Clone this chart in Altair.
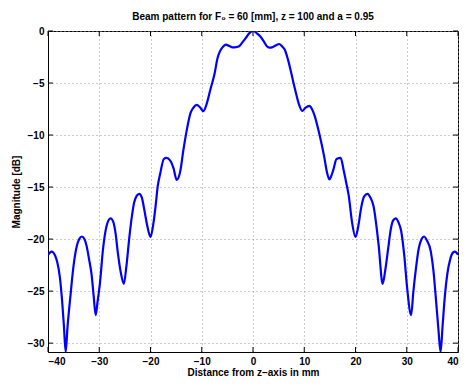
import altair as alt
import pandas as pd

# distance from z-axis [mm]
xs = [-40.0, -39.3, -38.6, -38.2, -37.7, -37.25, -36.9, -36.55, -36.2, -35.65,
      -35.0, -34.4, -33.9, -33.4, -32.9, -32.5, -32.0, -31.5, -31.1, -30.7,
      -30.3, -29.9, -29.25, -28.6, -28.2, -27.8, -27.3, -26.8, -26.4, -25.8,
      -25.2, -24.7, -24.1, -23.6, -23.2, -22.7, -22.2, -21.7, -21.2, -20.6,
      -20.0, -19.5, -19.0, -18.6, -18.1, -17.4, -16.9, -16.15, -15.5, -14.9,
      -14.2, -13.6, -12.95, -12.2, -11.6, -11.0, -10.4, -9.7, -9.1, -8.3,
      -7.5, -6.9, -6.5, -6.0, -5.3, -4.6, -4.0, -3.3, -2.7, -2.0,
      -1.44, -0.7, 0.0,
      0.7, 1.44, 2.1, 2.7, 3.2, 3.7, 4.4, 5.1, 5.7, 6.2,
      6.8, 7.5, 8.0, 8.5, 9.0, 9.6, 10.2, 11.0, 11.5, 12.0,
      12.95, 13.9, 14.4, 14.9, 15.3, 15.7, 16.3, 17.1, 17.7, 18.2,
      18.7, 19.3, 20.0, 20.6, 21.1, 21.7, 22.35, 22.9, 23.5, 24.5,
      25.3, 25.8, 26.4, 26.9, 27.35, 27.85, 28.4, 28.9, 29.5, 30.1,
      30.85, 31.3, 31.8, 32.3, 32.9, 33.4, 33.9, 34.7, 35.2, 35.7,
      36.2, 36.6, 37.0, 37.4, 37.9, 38.5, 39.0, 39.4, 40.0]

# magnitude [dB]
ys = [-21.5, -21.2, -21.6, -22.2, -23.6, -25.9, -28.3, -30.85, -28.5, -25.6,
      -22.5, -20.7, -20.0, -19.75, -20.0, -20.6, -21.9, -23.4, -25.4, -27.3,
      -25.9, -24.4, -20.9, -18.8, -18.2, -18.0, -18.3, -19.5, -21.2, -23.2,
      -24.3, -22.6, -19.7, -17.7, -16.5, -15.85, -15.65, -16.0, -17.2, -18.8,
      -19.8, -18.7, -16.8, -14.95, -13.7, -12.3, -12.2, -12.45, -13.2, -14.3,
      -13.5, -11.5, -9.6, -7.9, -7.35, -7.1, -7.3, -7.7, -7.1, -5.6,
      -4.1, -2.57, -2.0, -1.6, -1.3, -1.45, -1.57, -1.55, -1.47, -1.05,
      -0.69, -0.2, 0.0,
      -0.2, -0.53, -1.0, -1.47, -1.6, -1.57, -1.4, -1.25, -1.5, -1.8,
      -2.7, -4.1, -5.2, -6.2, -7.1, -7.68, -7.4, -7.2, -7.5, -8.1,
      -9.9, -12.1, -13.5, -14.26, -13.9, -13.3, -12.3, -12.2, -13.4, -14.6,
      -15.9, -18.3, -19.8, -18.6, -17.0, -15.9, -15.65, -16.0, -16.8, -20.5,
      -24.3, -23.0, -20.8, -19.0, -18.2, -18.0, -18.4, -19.2, -21.5, -24.8,
      -27.3, -25.0, -22.8, -21.0, -20.0, -19.75, -20.1, -21.2, -23.0, -25.8,
      -28.8, -30.85, -28.3, -25.7, -23.4, -21.9, -21.3, -21.2, -21.5]

x_ticks = [-40, -30, -20, -10, 0, 10, 20, 30, 40]
y_ticks = [-30, -25, -20, -15, -10, -5, 0]

W, H = 410, 321
FONT = "Liberation Sans"

df = pd.DataFrame({"x": xs, "y": ys})
xt = pd.DataFrame({"t": x_ticks})
yt = pd.DataFrame({"t": y_ticks})

xscale = alt.Scale(domain=[-40, 40], nice=False, zero=False)
yscale = alt.Scale(domain=[-30.85, 0], nice=False, zero=False)

line = alt.Chart(df).mark_line(
    color="#0000ff", strokeWidth=2.2, interpolate="monotone", clip=True
).encode(
    x=alt.X("x:Q", scale=xscale,
            axis=alt.Axis(values=x_ticks, title="Distance from z\u2212axis in mm",
                          grid=True, ticks=False, labelPadding=4, titlePadding=1)),
    y=alt.Y("y:Q", scale=yscale,
            axis=alt.Axis(values=y_ticks, title="Magnitude [dB]",
                          grid=True, ticks=False, labelPadding=4, titlePadding=6)),
)

tick_color = "black"
bx = alt.Chart(xt).mark_rule(color=tick_color, strokeWidth=1).encode(
    x=alt.X("t:Q", scale=xscale), y=alt.value(H), y2=alt.value(H - 5))
tx = alt.Chart(xt).mark_rule(color=tick_color, strokeWidth=1).encode(
    x=alt.X("t:Q", scale=xscale), y=alt.value(0), y2=alt.value(5))
ly = alt.Chart(yt).mark_rule(color=tick_color, strokeWidth=1).encode(
    y=alt.Y("t:Q", scale=yscale), x=alt.value(0), x2=alt.value(5))
ry = alt.Chart(yt).mark_rule(color=tick_color, strokeWidth=1).encode(
    y=alt.Y("t:Q", scale=yscale), x=alt.value(W), x2=alt.value(W - 5))

chart = alt.layer(bx, tx, ly, ry, line).properties(
    width=W, height=H,
    title=alt.Title("Beam pattern for F\u2080 = 60 [mm], z = 100 and a = 0.95",
                    font=FONT, fontSize=10, fontWeight="bold", color="black",
                    offset=4, anchor="middle"),
    autosize=alt.AutoSizeParams(type="none"),
    padding={"left": 40, "top": 23, "right": 6, "bottom": 25},
).configure_view(
    stroke="black", strokeWidth=1
).configure_axis(
    labelFont=FONT, labelFontSize=10, labelFontWeight="bold", labelColor="black",
    titleFont=FONT, titleFontSize=10, titleFontWeight="bold", titleColor="black",
    domain=True, domainColor="black", domainWidth=1,
    gridColor="#999999", gridDash=[1, 3], gridWidth=1, gridOpacity=1,
)

chart.save("out.html", embed_options={"renderer": "svg", "actions": False})
